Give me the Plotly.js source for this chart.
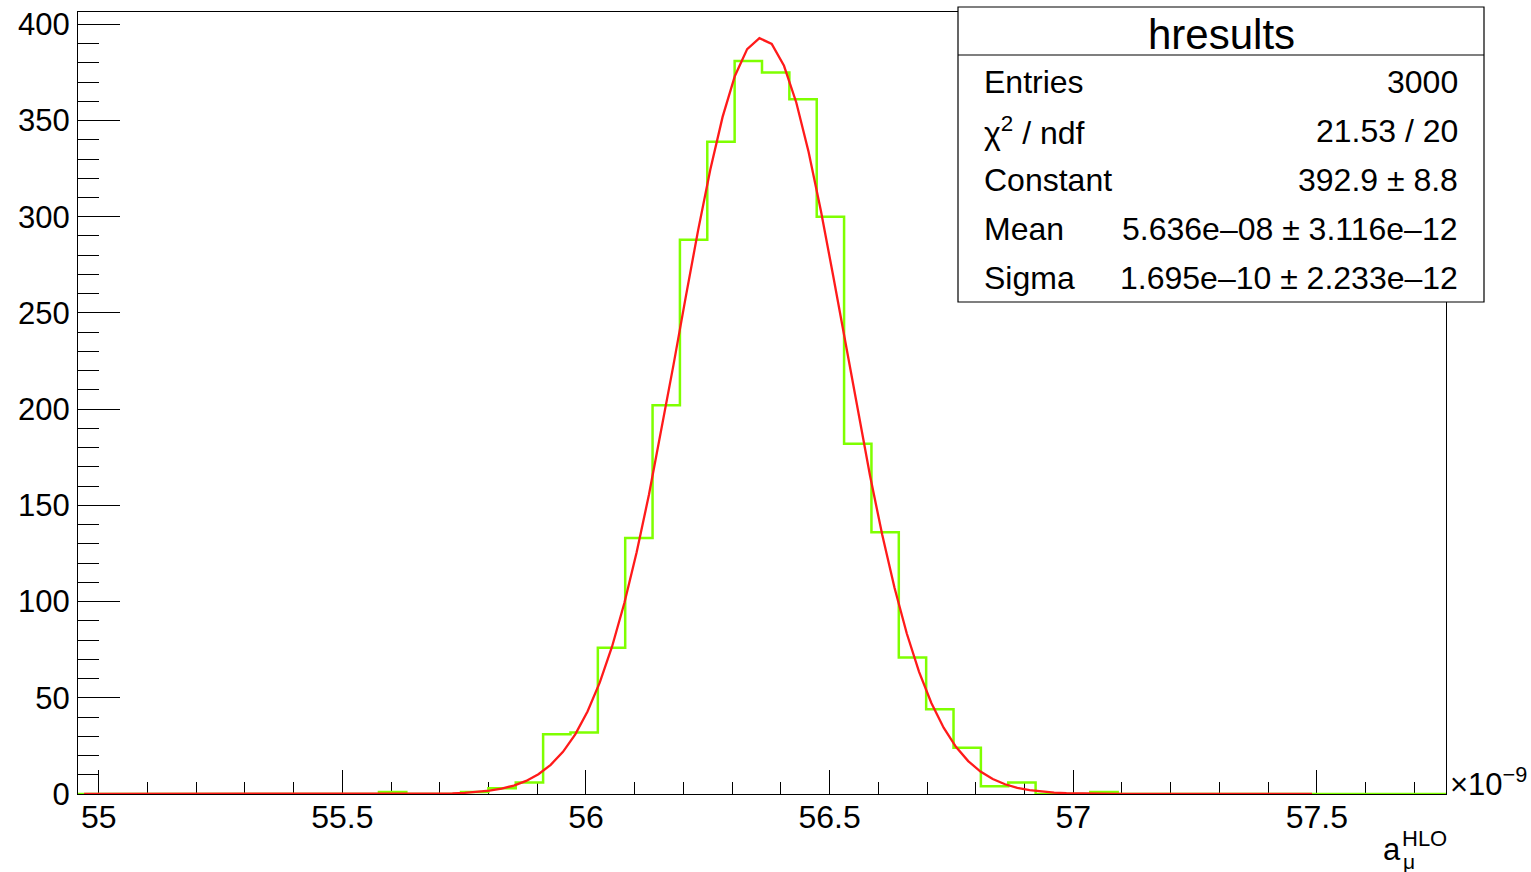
<!DOCTYPE html>
<html>
<head>
<meta charset="utf-8">
<script src="https://cdn.plot.ly/plotly-3.0.1.min.js"></script>
<style>
html,body{margin:0;padding:0;background:#fff;}
#chart{width:1531px;height:872px;}
</style>
</head>
<body>
<div id="chart"></div>
<script>
// ---- histogram data (hresults) ----
const binLow = 54.9575;
const binHigh = 57.765;
const nBins = 50;
const binCounts = [
  0, 0, 0, 0, 0, 0, 0, 0, 0, 0,
  0, 1, 0, 0, 1, 3, 6, 31, 32, 76,
  133, 202, 288, 339, 381, 375, 361, 300, 182, 136,
  71, 44, 24, 4, 6, 0, 0, 1, 0, 0,
  0, 0, 0, 0, 0, 0, 0, 0, 0, 0
];

// ---- gaussian fit result (from stats box) ----
const fitConstant = 392.9;
const fitMean = 56.36;   // 5.636e-08 in units of 1e-9
const fitSigma = 0.1695; // 1.695e-10 in units of 1e-9
const fitRange = [54.97, 57.49];
const fitNpx = 100;

// ---- axis ticks ----
const xTickVals = [55, 55.5, 56, 56.5, 57, 57.5];
const xTickLabels = ["55", "55.5", "56", "56.5", "57", "57.5"];
const yTickVals = [0, 50, 100, 150, 200, 250, 300, 350, 400];
const yTickLabels = ["0", "50", "100", "150", "200", "250", "300", "350", "400"];
const yMax = 406.4;

// ---- stats box text ----
const statsTitle = "hresults";
const statsNames = ["Entries", "χ<sup>2</sup> / ndf", "Constant", "Mean", "Sigma"];
const statsValues = ["3000", "21.53 / 20", "392.9 ± 8.8", "5.636e–08 ± 3.116e–12", "1.695e–10 ± 2.233e–12"];

// ---- build traces ----
const binWidth = (binHigh - binLow) / nBins;
const edges = [];
for (let k = 0; k <= nBins; k++) edges.push(binLow + k * binWidth);
const histY = binCounts.concat([binCounts[binCounts.length - 1]]);

const fitX = [], fitY = [];
for (let i = 0; i <= fitNpx; i++) {
  const x = fitRange[0] + (fitRange[1] - fitRange[0]) * i / fitNpx;
  fitX.push(x);
  fitY.push(fitConstant * Math.exp(-0.5 * Math.pow((x - fitMean) / fitSigma, 2)));
}

const FONT = "Liberation Sans, Arial, Helvetica, sans-serif";
const W = 1531, H = 872;
const M = {l: 78, r: 85, t: 12, b: 78};
const pw = W - M.l - M.r, ph = H - M.t - M.b;
const px = x => (x - M.l) / pw;
const py = y => (H - M.b - y) / ph;

const traces = [
  {
    type: "scatter", mode: "lines",
    x: edges, y: histY,
    line: {shape: "hv", color: "#7fff00", width: 2.5},
    hoverinfo: "skip", showlegend: false
  },
  {
    type: "scatter", mode: "lines",
    x: fitX, y: fitY,
    line: {color: "#ff1a1a", width: 2.3},
    hoverinfo: "skip", showlegend: false
  }
];

const annotations = [];
annotations.push({
  xref: "paper", yref: "paper", x: px(1221), y: py(34),
  xanchor: "center", yanchor: "middle", showarrow: false,
  text: statsTitle, font: {family: FONT, size: 42, color: "#000"}
});
const rowY = [82, 131, 180, 229, 278];
for (let i = 0; i < statsNames.length; i++) {
  annotations.push({
    xref: "paper", yref: "paper", x: px(982), y: py(rowY[i]),
    xanchor: "left", yanchor: "middle", showarrow: false,
    text: statsNames[i], font: {family: FONT, size: 32, color: "#000"}
  });
  annotations.push({
    xref: "paper", yref: "paper", x: px(1460), y: py(rowY[i]),
    xanchor: "right", yanchor: "middle", showarrow: false,
    text: statsValues[i], font: {family: FONT, size: 32, color: "#000"}
  });
}
// exponent label
annotations.push({
  xref: "paper", yref: "paper", x: px(1448), y: py(782),
  xanchor: "left", yanchor: "middle", showarrow: false,
  text: "×10<sup>−9</sup>", font: {family: FONT, size: 31, color: "#000"}
});
// axis title a_mu^HLO
annotations.push({
  xref: "paper", yref: "paper", x: px(1403), y: py(849),
  xanchor: "right", yanchor: "middle", showarrow: false,
  text: "a", font: {family: FONT, size: 31, color: "#000"}
});
annotations.push({
  xref: "paper", yref: "paper", x: px(1400), y: py(838),
  xanchor: "left", yanchor: "middle", showarrow: false,
  text: "HLO", font: {family: FONT, size: 22, color: "#000"}
});
annotations.push({
  xref: "paper", yref: "paper", x: px(1401), y: py(861),
  xanchor: "left", yanchor: "middle", showarrow: false,
  text: "μ", font: {family: FONT, size: 21, color: "#000"}
});

const shapes = [
  {type: "rect", xref: "paper", yref: "paper",
   x0: px(958), x1: px(1484), y0: py(302), y1: py(7),
   line: {color: "#000", width: 1.2}, fillcolor: "#fff", layer: "above"},
  {type: "line", xref: "paper", yref: "paper",
   x0: px(958), x1: px(1484), y0: py(55), y1: py(55),
   line: {color: "#000", width: 1.2}, layer: "above"}
];

const layout = {
  width: W, height: H,
  margin: {l: M.l, r: M.r, t: M.t, b: M.b, pad: 0},
  paper_bgcolor: "#fff", plot_bgcolor: "#fff",
  font: {family: FONT, size: 30, color: "#000"},
  showlegend: false,
  xaxis: {
    range: [binLow, binHigh],
    tickmode: "array", tickvals: xTickVals, ticktext: xTickLabels,
    ticks: "inside", ticklen: 24, tickwidth: 1, tickcolor: "#000",
    minor: {dtick: 0.1, tick0: 55, ticks: "inside", ticklen: 12, tickwidth: 1, tickcolor: "#000", showgrid: false},
    showline: true, linecolor: "#000", linewidth: 1, mirror: true,
    showgrid: false, zeroline: false,
    tickfont: {family: FONT, size: 32, color: "#000"},
    ticklabelstandoff: -5,
    layer: "below traces"
  },
  yaxis: {
    range: [0, yMax],
    tickmode: "array", tickvals: yTickVals, ticktext: yTickLabels,
    ticks: "inside", ticklen: 42, tickwidth: 1, tickcolor: "#000",
    minor: {dtick: 10, tick0: 0, ticks: "inside", ticklen: 21, tickwidth: 1, tickcolor: "#000", showgrid: false},
    showline: true, linecolor: "#000", linewidth: 1, mirror: true,
    showgrid: false, zeroline: false,
    tickfont: {family: FONT, size: 31, color: "#000"},
    ticklabelstandoff: 1,
    layer: "below traces"
  },
  annotations: annotations,
  shapes: shapes
};

Plotly.newPlot("chart", traces, layout, {staticPlot: true, displayModeBar: false});
</script>
</body>
</html>
